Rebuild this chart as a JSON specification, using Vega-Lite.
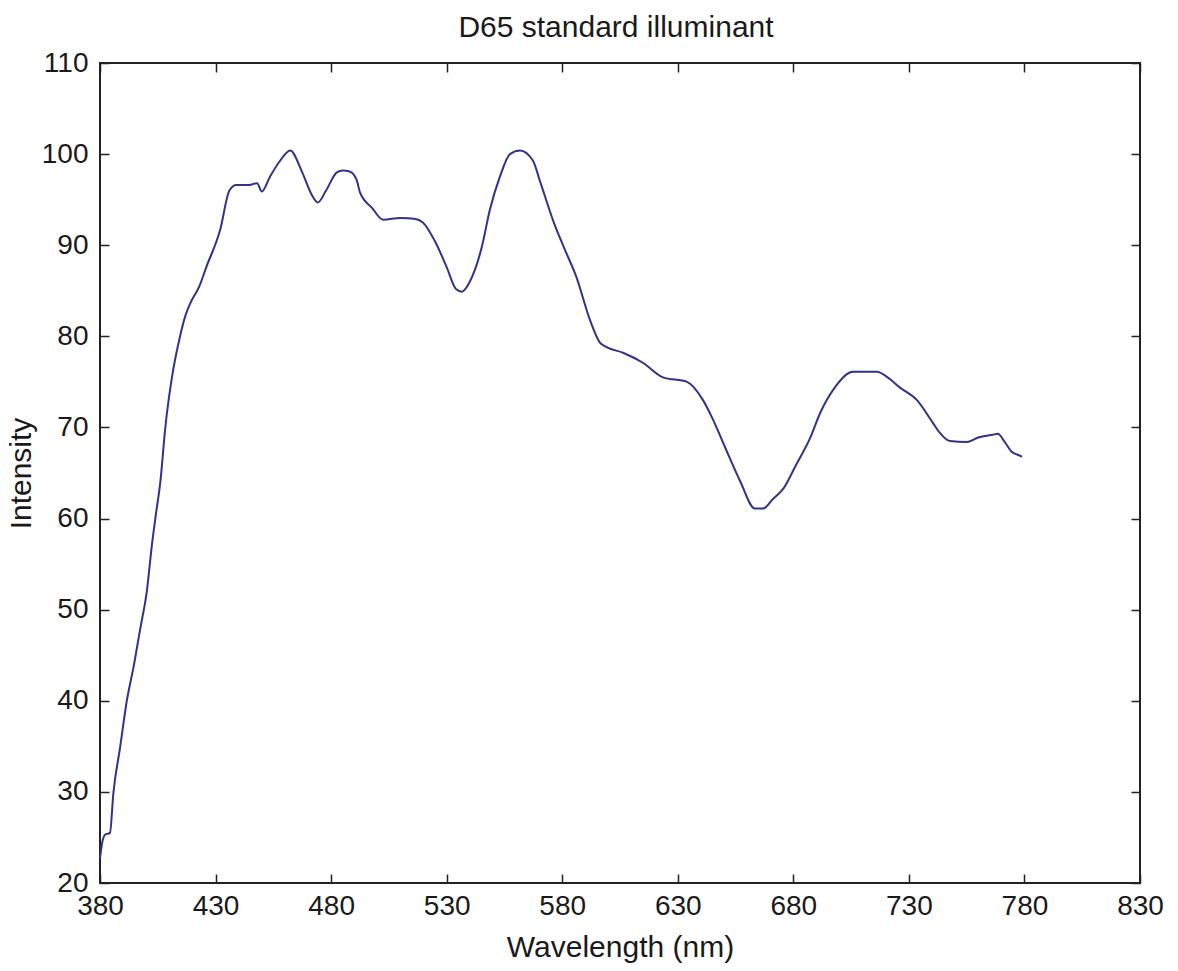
{
  "$schema": "https://vega.github.io/schema/vega-lite/v6.json",
  "autosize": "none",
  "width": 1040,
  "height": 820,
  "padding": {"left": 100, "top": 63, "right": 38, "bottom": 88},
  "background": "white",
  "title": {"text": "D65 standard illuminant", "fontSize": 30, "fontWeight": "normal", "font": "Liberation Sans", "color": "#1a1a1a", "offset": 6, "dx": -4},
  "config": {
    "view": {"stroke": "#222", "strokeWidth": 2},
    "axis": {"grid": false, "domain": false, "tickColor": "#222", "tickWidth": 1.5, "tickSize": -9, "labelFlush": false,
      "labelFont": "Liberation Sans", "labelFontSize": 28, "labelColor": "#1a1a1a",
      "titleFont": "Liberation Sans", "titleFontSize": 30, "titleFontWeight": "normal", "titleColor": "#1a1a1a"}
  },
  "data": {"values": [
    {"wavelength": 380, "intensity": 22.7},
    {"wavelength": 381, "intensity": 24.5},
    {"wavelength": 382.2, "intensity": 25.3},
    {"wavelength": 384.3, "intensity": 25.5},
    {"wavelength": 385.8, "intensity": 29.9},
    {"wavelength": 388.7, "intensity": 34.9},
    {"wavelength": 391.6, "intensity": 40.0},
    {"wavelength": 394.5, "intensity": 43.7},
    {"wavelength": 397.4, "intensity": 47.9},
    {"wavelength": 400.3, "intensity": 52.1},
    {"wavelength": 402.5, "intensity": 57.2},
    {"wavelength": 404.2, "intensity": 60.5},
    {"wavelength": 406.1, "intensity": 64.0},
    {"wavelength": 408.3, "intensity": 70.1},
    {"wavelength": 411.2, "intensity": 75.6},
    {"wavelength": 414.1, "intensity": 79.4},
    {"wavelength": 417, "intensity": 82.3},
    {"wavelength": 419, "intensity": 83.6},
    {"wavelength": 423, "intensity": 85.5},
    {"wavelength": 426, "intensity": 87.6},
    {"wavelength": 432, "intensity": 91.7},
    {"wavelength": 436, "intensity": 96.0},
    {"wavelength": 439, "intensity": 96.6},
    {"wavelength": 444, "intensity": 96.6},
    {"wavelength": 448, "intensity": 96.8},
    {"wavelength": 450, "intensity": 95.9},
    {"wavelength": 453.5, "intensity": 97.5},
    {"wavelength": 458, "intensity": 99.3},
    {"wavelength": 462.3, "intensity": 100.4},
    {"wavelength": 467.5, "intensity": 98.0},
    {"wavelength": 471.5, "intensity": 95.6},
    {"wavelength": 474.3, "intensity": 94.7},
    {"wavelength": 477.8, "intensity": 96.0},
    {"wavelength": 482.5, "intensity": 98.0},
    {"wavelength": 485, "intensity": 98.2},
    {"wavelength": 488, "intensity": 98.1},
    {"wavelength": 491, "intensity": 97.2},
    {"wavelength": 492.5, "intensity": 95.8},
    {"wavelength": 497.7, "intensity": 94.1},
    {"wavelength": 502.5, "intensity": 92.8},
    {"wavelength": 510, "intensity": 93.0},
    {"wavelength": 516, "intensity": 92.9},
    {"wavelength": 519.7, "intensity": 92.5},
    {"wavelength": 525, "intensity": 90.4},
    {"wavelength": 530, "intensity": 87.6},
    {"wavelength": 534, "intensity": 85.2},
    {"wavelength": 536.6, "intensity": 84.9},
    {"wavelength": 540, "intensity": 86.0},
    {"wavelength": 545.2, "intensity": 89.8},
    {"wavelength": 548.7, "intensity": 93.9},
    {"wavelength": 553, "intensity": 97.5},
    {"wavelength": 557.4, "intensity": 100.0},
    {"wavelength": 561.7, "intensity": 100.4},
    {"wavelength": 567.3, "intensity": 99.3},
    {"wavelength": 570.4, "intensity": 97.0},
    {"wavelength": 576.5, "intensity": 92.4},
    {"wavelength": 581, "intensity": 89.6},
    {"wavelength": 586, "intensity": 86.6},
    {"wavelength": 592, "intensity": 81.8},
    {"wavelength": 596.3, "intensity": 79.3},
    {"wavelength": 599.4, "intensity": 78.8},
    {"wavelength": 606.3, "intensity": 78.2},
    {"wavelength": 614.9, "intensity": 77.1},
    {"wavelength": 623.6, "intensity": 75.5},
    {"wavelength": 634, "intensity": 75.0},
    {"wavelength": 640.9, "intensity": 73.0},
    {"wavelength": 645, "intensity": 71.0},
    {"wavelength": 650.5, "intensity": 67.8},
    {"wavelength": 657, "intensity": 64.1},
    {"wavelength": 663.4, "intensity": 61.1},
    {"wavelength": 666.9, "intensity": 61.1},
    {"wavelength": 671, "intensity": 62.1},
    {"wavelength": 676, "intensity": 63.4},
    {"wavelength": 681, "intensity": 65.8},
    {"wavelength": 687, "intensity": 68.7},
    {"wavelength": 692, "intensity": 71.8},
    {"wavelength": 698, "intensity": 74.4},
    {"wavelength": 705.8, "intensity": 76.1},
    {"wavelength": 710, "intensity": 76.1},
    {"wavelength": 716, "intensity": 76.1},
    {"wavelength": 721.8, "intensity": 75.3},
    {"wavelength": 726, "intensity": 74.4},
    {"wavelength": 733.5, "intensity": 73.0},
    {"wavelength": 740.4, "intensity": 70.5},
    {"wavelength": 743.4, "intensity": 69.4},
    {"wavelength": 747.8, "intensity": 68.5},
    {"wavelength": 755, "intensity": 68.4},
    {"wavelength": 760, "intensity": 68.9},
    {"wavelength": 766.3, "intensity": 69.2},
    {"wavelength": 768.5, "intensity": 69.3},
    {"wavelength": 771.5, "intensity": 68.4},
    {"wavelength": 774.6, "intensity": 67.3},
    {"wavelength": 777, "intensity": 67.0},
    {"wavelength": 779, "intensity": 66.8}
  ]},
  "resolve": {"axis": {"x": "independent", "y": "independent"}},
  "layer": [
    {
      "mark": {"type": "line", "color": "#32328a", "strokeWidth": 2, "interpolate": "monotone"},
      "encoding": {
        "x": {"field": "wavelength", "type": "quantitative", "scale": {"domain": [380, 830], "nice": false, "zero": false},
          "axis": {"orient": "bottom", "values": [380, 430, 480, 530, 580, 630, 680, 730, 780, 830], "title": "Wavelength (nm)", "labelPadding": 18, "titlePadding": 12, "format": "d"}},
        "y": {"field": "intensity", "type": "quantitative", "scale": {"domain": [20, 110], "nice": false, "zero": false},
          "axis": {"orient": "left", "values": [20, 30, 40, 50, 60, 70, 80, 90, 100, 110], "title": "Intensity", "labelPadding": 21, "titlePadding": 5, "format": "d"}}
      }
    },
    {
      "mark": {"type": "line", "opacity": 0},
      "encoding": {
        "x": {"field": "wavelength", "type": "quantitative",
          "axis": {"orient": "top", "values": [380, 430, 480, 530, 580, 630, 680, 730, 780, 830], "labels": false, "title": null}},
        "y": {"field": "intensity", "type": "quantitative",
          "axis": {"orient": "right", "values": [20, 30, 40, 50, 60, 70, 80, 90, 100, 110], "labels": false, "title": null}}
      }
    }
  ]
}
